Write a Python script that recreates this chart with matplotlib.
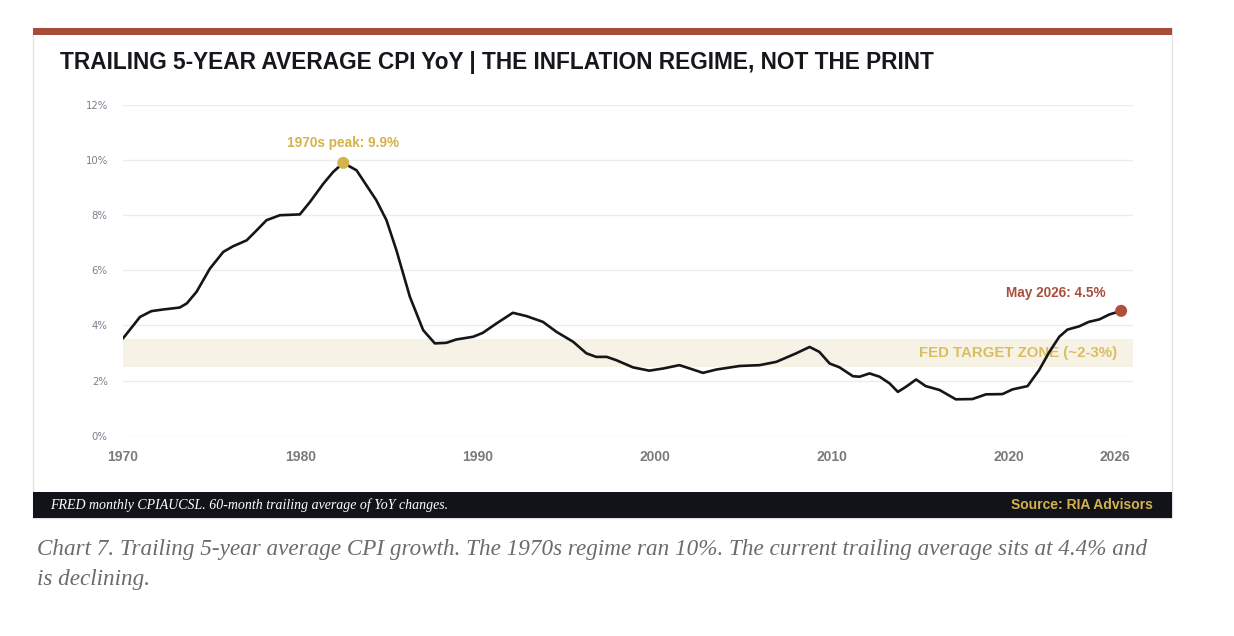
import matplotlib
matplotlib.use("Agg")
from matplotlib import pyplot as plt
from matplotlib.patches import Rectangle
import numpy as np

# trailing 5-yr avg CPI YoY (decimal year, %)
years = [1970.0, 1970.96, 1971.6, 1972.27, 1973.2, 1973.6, 1974.15, 1974.9, 1975.66,
         1976.2, 1976.98, 1977.54, 1978.1, 1978.85, 1979.98, 1980.55, 1981.3, 1981.86,
         1982.43, 1983.18, 1984.3, 1984.87, 1985.43, 1986.19, 1986.94, 1987.6, 1988.25,
         1988.8, 1989.76, 1990.3, 1991.07, 1992.0, 1992.77, 1993.7, 1994.46, 1995.4,
         1996.15, 1996.7, 1997.3, 1997.84, 1998.78, 1999.7, 2000.5, 2001.4, 2001.98,
         2002.73, 2003.48, 2004.8, 2005.93, 2006.87, 2007.96, 2008.75, 2009.3, 2009.88,
         2010.44, 2011.19, 2011.57, 2012.13, 2012.7, 2013.26, 2013.73, 2014.2, 2014.76,
         2015.3, 2016.08, 2017.0, 2017.94, 2018.7, 2019.63, 2020.2, 2021.05, 2021.7,
         2022.28, 2022.84, 2023.3, 2023.97, 2024.5, 2025.1, 2025.67, 2026.33]
cpi_avg = [3.53, 4.31, 4.52, 4.58, 4.65, 4.8, 5.22, 6.06, 6.67,
           6.87, 7.09, 7.45, 7.82, 8.0, 8.03, 8.48, 9.14, 9.57,
           9.9, 9.63, 8.54, 7.82, 6.73, 5.04, 3.83, 3.35, 3.37,
           3.49, 3.59, 3.73, 4.07, 4.46, 4.34, 4.13, 3.77, 3.41,
           2.99, 2.86, 2.86, 2.74, 2.48, 2.36, 2.44, 2.56, 2.44,
           2.28, 2.40, 2.53, 2.56, 2.68, 2.98, 3.22, 3.04, 2.62,
           2.48, 2.16, 2.14, 2.26, 2.14, 1.90, 1.59, 1.78, 2.04,
           1.80, 1.66, 1.32, 1.33, 1.50, 1.51, 1.68, 1.80, 2.38,
           3.04, 3.59, 3.85, 3.97, 4.13, 4.22, 4.40, 4.53]

peak_year, peak_val = 1982.43, 9.9
last_year, last_val = 2026.33, 4.53
target_lo, target_hi = 2.5, 3.5

xticks = [1970, 1980, 1990, 2000, 2010, 2020, 2026]
yticks = [0, 2, 4, 6, 8, 10, 12]

W, H = 1234, 636
fig = plt.figure(figsize=(W / 100, H / 100), dpi=100)
fig.patch.set_facecolor("white")

def fx(px):
    return px / W

def fy(py):
    return 1 - py / H

# panel, top bar, footer
fig.patches.append(Rectangle((fx(33), fy(518)), fx(1172) - fx(33), fy(28) - fy(518),
                             transform=fig.transFigure, facecolor="white",
                             edgecolor="#e3e3e3", lw=1.0, zorder=-10))
fig.patches.append(Rectangle((fx(33), fy(35)), fx(1172) - fx(33), fy(28) - fy(35),
                             transform=fig.transFigure, facecolor="#A84B3A",
                             edgecolor="none", zorder=-5))
fig.patches.append(Rectangle((fx(33), fy(518)), fx(1172) - fx(33), fy(492) - fy(518),
                             transform=fig.transFigure, facecolor="#111318",
                             edgecolor="none", zorder=-5))

fig.text(fx(60), fy(62), "TRAILING 5-YEAR AVERAGE CPI YoY | THE INFLATION REGIME, NOT THE PRINT",
         fontsize=16.3, fontweight="bold", family="Liberation Sans", color="#15171c",
         va="center", ha="left")

fig.text(fx(50), fy(505), "FRED monthly CPIAUCSL. 60-month trailing average of YoY changes.",
         fontsize=10, style="italic", family="Liberation Serif", color="white",
         va="center", ha="left")
fig.text(fx(1153), fy(505), "Source: RIA Advisors", fontsize=10, fontweight="bold",
         family="Liberation Sans", color="#D4B24C", va="center", ha="right")

cap = "Chart 7. Trailing 5-year average CPI growth. The 1970s regime ran 10%. The current trailing average sits at 4.4% and"
fig.text(fx(37), fy(550), cap, fontsize=16.7, style="italic", family="Liberation Serif",
         color="#6b6b6b", va="center", ha="left")
fig.text(fx(37), fy(580), "is declining.", fontsize=16.7, style="italic",
         family="Liberation Serif", color="#6b6b6b", va="center", ha="left")

# main plot
ax = fig.add_axes([fx(123), fy(435.7), fx(1133) - fx(123), fy(105) - fy(435.7)])
ax.set_facecolor("none")
ax.set_xlim(1970, 2027)
ax.set_ylim(0, 12)

ax.axhspan(target_lo, target_hi, color="#F7F2E6", lw=0, zorder=0)
for v in yticks:
    ax.axhline(v, color="#ececec", lw=1.0, zorder=0.5)

ax.plot(years, cpi_avg, color="#15151a", lw=1.9, zorder=3, solid_capstyle="round",
        solid_joinstyle="round")

ax.scatter([peak_year], [peak_val], s=75, color="#D4B24C", zorder=4, edgecolors="none")
ax.annotate("1970s peak: 9.9%", (peak_year, peak_val), xytext=(0, 9),
            textcoords="offset points", ha="center", va="bottom", fontsize=9.8,
            fontweight="bold", family="Liberation Sans", color="#D4B24C")

ax.scatter([last_year], [last_val], s=75, color="#B0503A", zorder=4, edgecolors="none")
ax.annotate("May 2026: 4.5%", (last_year, last_val), xytext=(-11, 8),
            textcoords="offset points", ha="right", va="bottom", fontsize=9.8,
            fontweight="bold", family="Liberation Sans", color="#A8503F")

ax.text(2026.1, (target_lo + target_hi) / 2, "FED TARGET ZONE (~2-3%)", ha="right",
        va="center", fontsize=10.8, fontweight="bold", family="Liberation Sans",
        color="#D9BD5F", zorder=2)

for s in ax.spines.values():
    s.set_visible(False)
ax.tick_params(length=0)
ax.set_yticks(yticks)
ax.set_yticklabels(["%d%%" % v for v in yticks], fontsize=7.3, family="DejaVu Sans",
                   color="#7a7f8c")
ax.tick_params(axis="y", pad=11)
ax.set_xticks(xticks)
ax.set_xticklabels([str(x) for x in xticks], fontsize=10, fontweight="bold",
                   family="Liberation Sans", color="#7a7a7a")
ax.tick_params(axis="x", pad=10)

fig.savefig("out.png", dpi=100, facecolor="white")
